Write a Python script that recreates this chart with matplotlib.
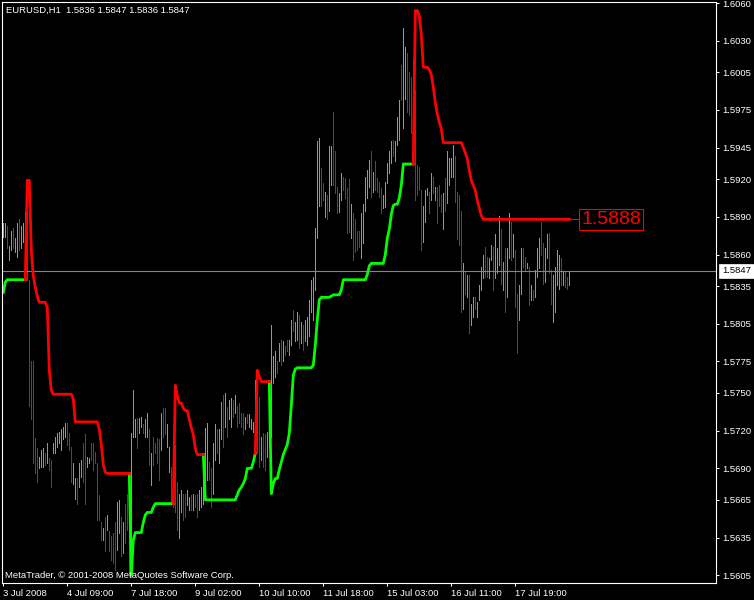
import matplotlib.pyplot as plt
import matplotlib.transforms as mtransforms
import numpy as np

plt.rcParams['font.family'] = ['Liberation Sans', 'DejaVu Sans']

# hourly bars (one bar every 2 px)
bar_high = [
    1.5885, 1.5885, 1.5883, 1.5867, 1.5879, 1.5881, 1.5873, 1.5885, 1.5888, 1.5883,
    1.5885, 1.5894, 1.5903, 1.5840, 1.5775, 1.5775, 1.5714, 1.5706, 1.5699, 1.5705,
    1.5706, 1.5702, 1.5710, 1.5698, 1.5697, 1.5710, 1.5715, 1.5718, 1.5719, 1.5721,
    1.5723, 1.5726, 1.5726, 1.5718, 1.5707, 1.5694, 1.5682, 1.5682, 1.5694, 1.5697,
    1.5710, 1.5717, 1.5699, 1.5698, 1.5710, 1.5710, 1.5703, 1.5694, 1.5669, 1.5647,
    1.5643, 1.5651, 1.5653, 1.5640, 1.5636, 1.5639, 1.5647, 1.5663, 1.5665, 1.5651,
    1.5647, 1.5662, 1.5670, 1.5657, 1.5718, 1.5752, 1.5729, 1.5730, 1.5730, 1.5731,
    1.5725, 1.5729, 1.5734, 1.5721, 1.5702, 1.5715, 1.5710, 1.5714, 1.5713, 1.5734,
    1.5738, 1.5738, 1.5725, 1.5707, 1.5691, 1.5673, 1.5709, 1.5679, 1.5670, 1.5673,
    1.5670, 1.5670, 1.5673, 1.5667, 1.5669, 1.5670, 1.5669, 1.5670, 1.5673, 1.5675,
    1.5699, 1.5722, 1.5726, 1.5695, 1.5690, 1.5710, 1.5725, 1.5721, 1.5721, 1.5743,
    1.5748, 1.5750, 1.5739, 1.5744, 1.5746, 1.5744, 1.5748, 1.5740, 1.5742, 1.5734,
    1.5734, 1.5731, 1.5733, 1.5733, 1.5729, 1.5727, 1.5760, 1.5752, 1.5747, 1.5715,
    1.5718, 1.5717, 1.5719, 1.5758, 1.5804, 1.5779, 1.5783, 1.5775, 1.5790, 1.5792,
    1.5791, 1.5787, 1.5792, 1.5792, 1.5808, 1.5816, 1.5806, 1.5814, 1.5812, 1.5806,
    1.5804, 1.5808, 1.5810, 1.5824, 1.5840, 1.5842, 1.5881, 1.5950, 1.5953, 1.5929,
    1.5917, 1.5910, 1.5907, 1.5946, 1.5946, 1.5973, 1.5942, 1.5914, 1.5909, 1.5925,
    1.5922, 1.5921, 1.5913, 1.5920, 1.5900, 1.5893, 1.5888, 1.5879, 1.5879, 1.5893,
    1.5900, 1.5922, 1.5927, 1.5935, 1.5942, 1.5926, 1.5934, 1.5921, 1.5918, 1.5913,
    1.5907, 1.5918, 1.5933, 1.5942, 1.5950, 1.5951, 1.5950, 1.5969, 1.5983, 1.6011,
    1.6040, 1.6025, 1.6020, 1.6005, 1.6001, 1.6015, 1.5991, 1.5931, 1.5930, 1.5911,
    1.5899, 1.5911, 1.5913, 1.5910, 1.5925, 1.5922, 1.5914, 1.5914, 1.5915, 1.5907,
    1.5909, 1.5921, 1.5942, 1.5937, 1.5937, 1.5947, 1.5938, 1.5910, 1.5907, 1.5895,
    1.5853, 1.5846, 1.5844, 1.5844, 1.5821, 1.5826, 1.5826, 1.5822, 1.5836, 1.5850,
    1.5860, 1.5866, 1.5858, 1.5857, 1.5868, 1.5866, 1.5876, 1.5865, 1.5891, 1.5880,
    1.5854, 1.5865, 1.5865, 1.5893, 1.5886, 1.5876, 1.5864, 1.5829, 1.5836, 1.5865,
    1.5865, 1.5858, 1.5853, 1.5850, 1.5836, 1.5832, 1.5848, 1.5865, 1.5873, 1.5886,
    1.5869, 1.5865, 1.5876, 1.5877, 1.5848, 1.5844, 1.5850, 1.5864, 1.5860, 1.5857,
    1.5846, 1.5846, 1.5842, 1.5847,
]
bar_low = [
    1.5874, 1.5874, 1.5865, 1.5856, 1.5864, 1.5865, 1.5862, 1.5858, 1.5864, 1.5865,
    1.5870, 1.5873, 1.5840, 1.5740, 1.5729, 1.5694, 1.5686, 1.5679, 1.5690, 1.5691,
    1.5691, 1.5693, 1.5694, 1.5689, 1.5675, 1.5702, 1.5702, 1.5707, 1.5710, 1.5705,
    1.5713, 1.5715, 1.5709, 1.5705, 1.5679, 1.5678, 1.5666, 1.5662, 1.5675, 1.5683,
    1.5679, 1.5662, 1.5691, 1.5694, 1.5697, 1.5689, 1.5694, 1.5649, 1.5649, 1.5633,
    1.5633, 1.5624, 1.5641, 1.5624, 1.5617, 1.5615, 1.5609, 1.5625, 1.5639, 1.5620,
    1.5623, 1.5631, 1.5641, 1.5605, 1.5617, 1.5715, 1.5715, 1.5706, 1.5718, 1.5723,
    1.5718, 1.5715, 1.5715, 1.5693, 1.5677, 1.5693, 1.5702, 1.5694, 1.5681, 1.5705,
    1.5715, 1.5717, 1.5707, 1.5687, 1.5661, 1.5659, 1.5655, 1.5641, 1.5635, 1.5655,
    1.5649, 1.5651, 1.5661, 1.5657, 1.5657, 1.5657, 1.5659, 1.5651, 1.5657, 1.5659,
    1.5662, 1.5667, 1.5681, 1.5681, 1.5659, 1.5670, 1.5697, 1.5702, 1.5694, 1.5713,
    1.5707, 1.5723, 1.5715, 1.5729, 1.5723, 1.5731, 1.5734, 1.5723, 1.5726, 1.5723,
    1.5717, 1.5721, 1.5726, 1.5723, 1.5721, 1.5719, 1.5723, 1.5702, 1.5691, 1.5697,
    1.5691, 1.5689, 1.5699, 1.5713, 1.5715, 1.5758, 1.5763, 1.5766, 1.5775, 1.5772,
    1.5775, 1.5780, 1.5783, 1.5780, 1.5788, 1.5799, 1.5791, 1.5792, 1.5786, 1.5790,
    1.5784, 1.5791, 1.5788, 1.5795, 1.5814, 1.5808, 1.5832, 1.5873, 1.5899, 1.5899,
    1.5903, 1.5890, 1.5888, 1.5895, 1.5915, 1.5915, 1.5909, 1.5893, 1.5894, 1.5903,
    1.5911, 1.5905, 1.5877, 1.5878, 1.5873, 1.5856, 1.5862, 1.5864, 1.5866, 1.5857,
    1.5869, 1.5895, 1.5905, 1.5914, 1.5906, 1.5910, 1.5911, 1.5910, 1.5906, 1.5893,
    1.5897, 1.5898, 1.5917, 1.5925, 1.5933, 1.5938, 1.5934, 1.5947, 1.5951, 1.5983,
    1.5961, 1.5984, 1.5973, 1.5971, 1.5957, 1.5959, 1.5903, 1.5907, 1.5911, 1.5864,
    1.5870, 1.5886, 1.5907, 1.5893, 1.5903, 1.5909, 1.5903, 1.5885, 1.5899, 1.5894,
    1.5880, 1.5895, 1.5901, 1.5915, 1.5922, 1.5922, 1.5902, 1.5872, 1.5868, 1.5814,
    1.5817, 1.5829, 1.5826, 1.5798, 1.5804, 1.5810, 1.5817, 1.5810, 1.5824, 1.5832,
    1.5841, 1.5842, 1.5842, 1.5841, 1.5856, 1.5832, 1.5841, 1.5845, 1.5852, 1.5837,
    1.5832, 1.5814, 1.5826, 1.5857, 1.5856, 1.5858, 1.5818, 1.5782, 1.5808, 1.5829,
    1.5850, 1.5848, 1.5849, 1.5820, 1.5824, 1.5824, 1.5826, 1.5842, 1.5849, 1.5860,
    1.5837, 1.5838, 1.5857, 1.5845, 1.5821, 1.5806, 1.5814, 1.5836, 1.5833, 1.5836,
    1.5836, 1.5834, 1.5833, 1.5836,
]
bar_up = [
    1, 1, 0, 1, 1, 0, 1, 1, 0, 1,
    1, 1, 0, 0, 0, 0, 0, 0, 1, 1,
    1, 0, 1, 0, 0, 1, 1, 1, 1, 1,
    1, 1, 0, 0, 0, 1, 1, 0, 1, 1,
    0, 0, 1, 1, 0, 0, 0, 0, 0, 0,
    1, 0, 1, 0, 0, 0, 0, 1, 1, 0,
    1, 0, 0, 0, 1, 1, 1, 0, 1, 1,
    0, 1, 1, 0, 1, 0, 0, 0, 0, 1,
    0, 0, 1, 1, 0, 0, 0, 0, 1, 1,
    0, 0, 1, 1, 0, 1, 0, 0, 1, 1,
    1, 1, 1, 0, 0, 1, 1, 0, 1, 1,
    0, 1, 0, 1, 1, 0, 1, 0, 0, 0,
    0, 1, 0, 1, 1, 1, 1, 0, 0, 1,
    0, 0, 1, 1, 1, 1, 1, 0, 1, 0,
    1, 0, 0, 1, 1, 0, 1, 1, 0, 1,
    0, 1, 1, 1, 1, 1, 1, 1, 1, 0,
    0, 1, 0, 1, 1, 0, 0, 0, 1, 1,
    0, 0, 0, 0, 1, 0, 0, 0, 0, 1,
    1, 1, 1, 1, 0, 1, 0, 0, 0, 0,
    1, 1, 1, 1, 1, 0, 1, 1, 1, 0,
    1, 1, 0, 0, 0, 0, 0, 0, 0, 0,
    1, 1, 1, 0, 1, 0, 1, 0, 0, 0,
    1, 0, 1, 1, 1, 1, 0, 0, 0, 0,
    1, 0, 1, 0, 1, 1, 0, 1, 1, 1,
    1, 0, 0, 1, 1, 0, 1, 1, 1, 0,
    1, 0, 1, 1, 0, 1, 0, 0, 1, 1,
    0, 0, 1, 0, 1, 0, 1, 1, 1, 0,
    0, 1, 1, 0, 0, 1, 1, 1, 1, 0,
    1, 0, 0, 1,
]

# trailing stop indicator: green (below price) and red (above price) pieces
green_starts = [0, 63, 100, 133]
green_parts = [
    [1.5830, 1.5838] + [1.5840] * 10,
    [1.5686, 1.5605, 1.5633] + [1.5639] * 4 + [1.5647, 1.5653] + [1.5655] * 3
    + [1.5659] + [1.5662] * 10,
    [1.5701] + [1.5665] * 16 + [1.5669, 1.5673, 1.5675, 1.5678, 1.5682]
    + [1.5690] * 3 + [1.5695, 1.5702],
    [1.5759, 1.5670, 1.5678, 1.5682, 1.5682, 1.5689, 1.5695, 1.5701, 1.5705, 1.5709,
     1.5718, 1.5740, 1.5764, 1.5769] + [1.5770] * 8
    + [1.5772, 1.5788, 1.5808, 1.5824] + [1.5826] * 5 + [1.5827] + [1.5828] * 4
    + [1.5832] + [1.5840] * 12 + [1.5844, 1.5851] + [1.5853] * 7
    + [1.5860, 1.5873, 1.5880, 1.5892, 1.5899, 1.5900, 1.5900, 1.5905, 1.5915]
    + [1.5932] * 6,
]
red_starts = [11, 85, 126, 205]
red_parts = [
    [1.5840, 1.5919, 1.5919, 1.5863, 1.5843, 1.5834, 1.5827] + [1.5822] * 4
    + [1.5818, 1.5768, 1.5752] + [1.5749] * 10 + [1.5745] + [1.5727] * 12
    + [1.5721, 1.5709, 1.5693, 1.5687] + [1.5686] * 12,
    [1.5662, 1.5756, 1.5748, 1.5742, 1.5742, 1.5738, 1.5736, 1.5736, 1.5729, 1.5722,
     1.5717, 1.5706] + [1.5701] * 4,
    [1.5702, 1.5768, 1.5763] + [1.5759] * 5,
    [1.5932, 1.6054, 1.6054, 1.6050, 1.6035, 1.6009, 1.6009, 1.6009, 1.6007, 1.6003,
     1.5993, 1.5981, 1.5972, 1.5965, 1.5960] + [1.5949] * 10
    + [1.5945, 1.5941, 1.5936, 1.5927, 1.5919, 1.5915, 1.5911, 1.5903, 1.5897, 1.5891]
    + [1.5888] * 44,
]

y_ticks = [1.6060, 1.6030, 1.6005, 1.5975, 1.5945, 1.5920, 1.5890, 1.5860, 1.5835,
           1.5805, 1.5775, 1.5750, 1.5720, 1.5690, 1.5665, 1.5635, 1.5605]
x_tick_bars = [0, 32, 64, 96, 128, 160, 192, 224, 256]
x_tick_labels = ['3 Jul 2008', '4 Jul 09:00', '7 Jul 18:00', '9 Jul 02:00',
                 '10 Jul 10:00', '11 Jul 18:00', '15 Jul 03:00', '16 Jul 11:00',
                 '17 Jul 19:00']

title = 'EURUSD,H1  1.5836 1.5847 1.5836 1.5847'
last_price = 1.5847
stop_price = 1.5888

n = len(bar_high)
x = np.arange(n)


def build(starts, parts):
    arr = np.full(n, np.nan)
    for s, vals in zip(starts, parts):
        arr[s:s + len(vals)] = vals
    return arr


green_line = build(green_starts, green_parts)
red_line = build(red_starts, red_parts)

fig = plt.figure(figsize=(7.54, 6.0), dpi=100, facecolor='black')
ax = fig.add_axes([2 / 754, 17 / 600, 714 / 754, 581 / 600])
ax.set_facecolor('black')

colors = ['#00ff00' if u else '#ff0000' for u in bar_up]
ax.vlines(x, bar_low, bar_high, colors=colors, lw=0.45, antialiased=False, zorder=1)
ax.axhline(last_price, color='#778899', lw=0.8, zorder=1.5)
ax.plot(x, green_line, color='#00ff00', lw=2.0, zorder=2)
ax.plot(x, red_line, color='#ff0000', lw=2.0, zorder=2)

# stop level label
ax.plot([n - 1, n + 3.85], [stop_price, stop_price], color='#ff0000', lw=0.75, zorder=2)
ax.text(n + 4.9, stop_price, '1.5888', color='#ff0000', fontsize=14,
        ha='left', va='center', zorder=3,
        bbox=dict(boxstyle='square,pad=0.12', fc='black', ec='#ff0000', lw=0.8))

ax.set_xlim(-0.65, 356.35)
ax.set_ylim(1.55989, 1.60608)

for s in ax.spines.values():
    s.set_color('white')
    s.set_linewidth(0.8)

ax.yaxis.tick_right()
ax.set_yticks(y_ticks)
ax.set_yticklabels(['%.4f' % v for v in y_ticks])
ax.tick_params(axis='y', direction='out', length=2.2, width=0.75, color='white',
               labelcolor='white', labelsize=6.8, pad=2.5)
ax.set_xticks(x_tick_bars)
ax.set_xticklabels(x_tick_labels)
ax.tick_params(axis='x', direction='out', length=2.5, width=0.75, color='white',
               labelcolor='white', labelsize=6.8, pad=1.5)
for lab in ax.get_xticklabels():
    lab.set_ha('left')

# current price box on the price scale
trans = mtransforms.blended_transform_factory(fig.transFigure, ax.transData)
ax.text(722 / 754, last_price, '%.4f' % last_price, transform=trans, color='black',
        fontsize=6.8, ha='left', va='center', clip_on=False, zorder=5,
        bbox=dict(boxstyle='square,pad=0.3', fc='white', ec='white', lw=0.5))

fig.text(6 / 754, 1 - 10.5 / 600, title, color='white', fontsize=6.8,
         ha='left', va='center')
fig.text(5 / 754, 1 - 575.5 / 600, 'MetaTrader, © 2001-2008 MetaQuotes Software Corp.',
         color='white', fontsize=6.8, ha='left', va='center', zorder=10)

fig.savefig('out.png', dpi=100, facecolor='black')
